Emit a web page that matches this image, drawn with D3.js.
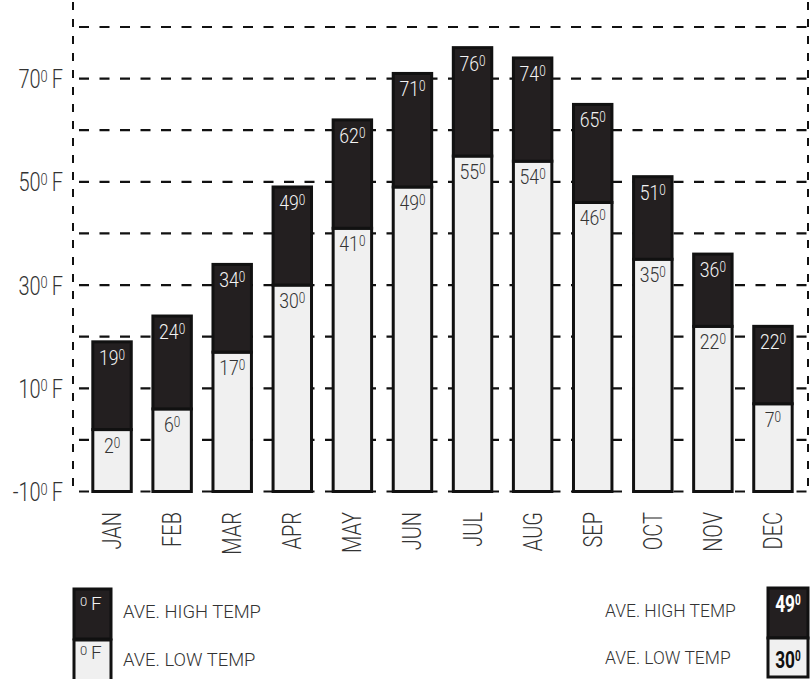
<!DOCTYPE html>
<html>
<head>
<meta charset="utf-8">
<script src="https://cdn.jsdelivr.net/npm/d3@7"></script>
<style>
  html, body { margin: 0; padding: 0; background: #fff; }
  svg { display: block; font-family: Roboto, "Liberation Sans", Arial, sans-serif; font-weight: 300; }
</style>
</head>
<body>
<svg id="chart" width="810" height="679"></svg>
<script>
// Monthly average temperatures (°F)
const months = ["JAN", "FEB", "MAR", "APR", "MAY", "JUN", "JUL", "AUG", "SEP", "OCT", "NOV", "DEC"];
const highTemps = [19, 24, 34, 49, 62, 71, 76, 74, 65, 51, 36, 22];
const lowTemps = [2, 6, 17, 30, 41, 49, 55, 54, 46, 35, 22, 7];
const gridValues = [-10, 0, 10, 20, 30, 40, 50, 60, 70, 80];
const axisLabelValues = [-10, 10, 30, 50, 70];
const legendSample = { high: 49, low: 30 };

const DARK = "#231f20";
const LIGHT = "#f0f0f0";
const INK = "#111";
const TEXT = "#333";

const svg = d3.select("#chart");
svg.append("rect").attr("width", 810).attr("height", 679).attr("fill", "#fff");

const y = d3.scaleLinear().domain([-10, 80]).range([491.5, 27]);
const x = d3.scaleBand().domain(months).range([82, 803]).paddingInner(0.36).paddingOuter(0.18);

const axisLeft = 73, axisRight = 808;

// number followed by a small raised "0" degree mark, optional suffix
function degText(g, opts) {
  const t = g.append("text")
    .attr("transform", `translate(${opts.x},${opts.y}) scale(${opts.sx},1)`)
    .attr("text-anchor", opts.anchor)
    .attr("fill", opts.color)
    .attr("font-size", opts.size)
    .attr("font-weight", opts.weight || 300);
  const supSize = opts.supSize;
  const lift = (opts.size - supSize) * 0.72;
  if (opts.main !== "") t.append("tspan").text(opts.main);
  t.append("tspan").attr("font-size", supSize).attr("dy", -lift).text("0");
  if (opts.suffix) t.append("tspan").attr("dy", lift).text(opts.suffix);
  return t;
}

// dashed grid
const grid = svg.append("g");
grid.selectAll("line.h").data(gridValues).join("line")
  .attr("class", "h")
  .attr("x1", axisLeft).attr("x2", axisRight)
  .attr("y1", d => y(d)).attr("y2", d => y(d))
  .attr("stroke", INK).attr("stroke-width", 2.2)
  .attr("stroke-dasharray", "10,10.5")
  .attr("stroke-dashoffset", -6);
grid.selectAll("line.v").data([axisLeft, axisRight]).join("line")
  .attr("class", "v")
  .attr("x1", d => d).attr("x2", d => d)
  .attr("y1", 2).attr("y2", y(-10))
  .attr("stroke", INK).attr("stroke-width", 2)
  .attr("stroke-dasharray", "8,9");

// y-axis labels
const yl = svg.append("g");
axisLabelValues.forEach(v => {
  degText(yl, { x: 63, y: y(v) + 9.5, sx: 0.8, anchor: "end", color: TEXT, size: 25, supSize: 16, main: String(v), suffix: "\u2009F" });
});

// bars
const bars = svg.append("g").selectAll("g").data(months).join("g");
bars.append("rect")
  .attr("x", d => x(d)).attr("width", x.bandwidth())
  .attr("y", (d, i) => y(lowTemps[i]))
  .attr("height", (d, i) => y(-10) - y(lowTemps[i]))
  .attr("fill", LIGHT).attr("stroke", INK).attr("stroke-width", 3);
bars.append("rect")
  .attr("x", d => x(d)).attr("width", x.bandwidth())
  .attr("y", (d, i) => y(highTemps[i]))
  .attr("height", (d, i) => y(lowTemps[i]) - y(highTemps[i]))
  .attr("fill", DARK).attr("stroke", INK).attr("stroke-width", 3);

// value labels
months.forEach((m, i) => {
  const cx = x(m) + x.bandwidth() / 2;
  degText(svg, { x: cx, y: y(highTemps[i]) + 23, sx: 0.84, anchor: "middle", color: "#f4f4f4", size: 21, supSize: 14, main: String(highTemps[i]) });
  degText(svg, { x: cx, y: y(lowTemps[i]) + 23, sx: 0.84, anchor: "middle", color: TEXT, size: 21, supSize: 14, main: String(lowTemps[i]) });
});

// month labels
svg.append("g").selectAll("text").data(months).join("text")
  .attr("transform", d => `translate(${x(d) + x.bandwidth() / 2 + 9},512) rotate(-90) scale(0.8,1)`)
  .attr("text-anchor", "end")
  .attr("font-size", 25)
  .attr("fill", TEXT)
  .text(d => d);

// legend (left): swatches with unit mark
const lg = svg.append("g");
lg.append("rect").attr("x", 74).attr("y", 589).attr("width", 37).attr("height", 50)
  .attr("fill", DARK).attr("stroke", INK).attr("stroke-width", 3);
lg.append("rect").attr("x", 74).attr("y", 640).attr("width", 37).attr("height", 45)
  .attr("fill", LIGHT).attr("stroke", INK).attr("stroke-width", 3);
degText(lg, { x: 80, y: 610, sx: 1, anchor: "start", color: "#f4f4f4", size: 19, supSize: 13, main: "", suffix: "\u2009F" });
degText(lg, { x: 80, y: 659, sx: 1, anchor: "start", color: TEXT, size: 19, supSize: 13, main: "", suffix: "\u2009F" });
lg.append("text").attr("transform", "translate(123,618) scale(0.97,1)")
  .attr("font-size", 19).attr("fill", TEXT).text("AVE. HIGH TEMP");
lg.append("text").attr("transform", "translate(123,666) scale(0.97,1)")
  .attr("font-size", 19).attr("fill", TEXT).text("AVE. LOW TEMP");

// legend (right): sample values
const rg = svg.append("g");
rg.append("text").attr("transform", "translate(605,617) scale(0.92,1)")
  .attr("font-size", 19).attr("fill", TEXT).text("AVE. HIGH TEMP");
rg.append("text").attr("transform", "translate(605,664) scale(0.92,1)")
  .attr("font-size", 19).attr("fill", TEXT).text("AVE. LOW TEMP");
rg.append("rect").attr("x", 768).attr("y", 588).attr("width", 40).attr("height", 50)
  .attr("fill", DARK).attr("stroke", INK).attr("stroke-width", 3);
rg.append("rect").attr("x", 768).attr("y", 638).attr("width", 40).attr("height", 39)
  .attr("fill", LIGHT).attr("stroke", INK).attr("stroke-width", 3);
degText(rg, { x: 788, y: 612, sx: 0.72, anchor: "middle", color: "#fff", size: 24, supSize: 14, main: String(legendSample.high), weight: "bold" });
degText(rg, { x: 788, y: 668, sx: 0.72, anchor: "middle", color: "#111", size: 24, supSize: 14, main: String(legendSample.low), weight: "bold" });
</script>
</body>
</html>
